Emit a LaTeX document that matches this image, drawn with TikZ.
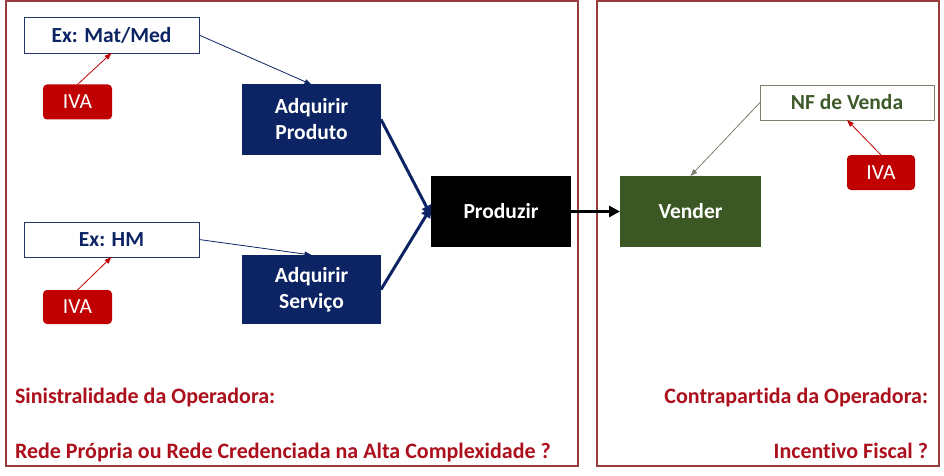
\documentclass[tikz,border=0pt]{standalone}
\usepackage{fontspec}
\setmainfont{Carlito}[Ligatures={NoCommon}]
\usetikzlibrary{arrows.meta}
\definecolor{navy}{RGB}{12,36,100}
\definecolor{ivared}{RGB}{192,0,0}
\definecolor{vgreen}{RGB}{58,87,36}
\definecolor{nfgreen}{RGB}{62,90,42}
\definecolor{panelred}{RGB}{150,62,62}
\definecolor{txtred}{RGB}{172,16,28}
\definecolor{nfline}{RGB}{120,130,110}
\begin{document}
\begin{tikzpicture}[x=1pt,y=-1pt,
  every node/.style={inner sep=0pt,outer sep=0pt,font=\fontsize{21.5}{26}\selectfont\bfseries},
  panel/.style={draw=panelred,line width=1.1pt},
  exbox/.style={draw=navy!80!gray,line width=0.8pt,fill=white,text=navy,minimum width=175pt,minimum height=36pt},
  nfbox/.style={draw=nfline,line width=0.8pt,fill=white,text=nfgreen,minimum width=174pt,minimum height=35pt},
  ivabox/.style={fill=ivared,text=white,rounded corners=4pt,minimum width=69pt,minimum height=35pt,font=\fontsize{21.5}{26}\selectfont\mdseries},
  bluebox/.style={fill=navy,text=white,align=center,minimum width=139pt,minimum height=70pt},
  blackbox/.style={fill=black,text=white,minimum width=140pt,minimum height=71pt},
  greenbox/.style={fill=vgreen,text=white,minimum width=141pt,minimum height=71pt},
  thinnavy/.style={draw=navy,line width=0.8pt,-{Triangle[length=7pt,width=5pt]}},
  thinred/.style={draw=ivared,line width=0.8pt,-{Triangle[length=7pt,width=5pt]}},
  thingreen/.style={draw=nfline,line width=0.8pt,-{Triangle[length=7pt,width=5pt]}},
  thicknavy/.style={draw=navy,line width=3pt,-{Triangle[length=10pt,width=10pt]}},
  thickblack/.style={draw=black,line width=3.5pt,-{Triangle[length=11pt,width=11pt]}},
  note/.style={text=txtred,font=\fontsize{22}{26}\selectfont\bfseries}
]
\useasboundingbox (0,0) rectangle (944,476);
\fill[white] (0,0) rectangle (944,476);
% panels
\draw[panel] (6,1) rectangle (578,466);
\draw[panel] (597,1) rectangle (939,466);
% nodes
\node[exbox] (exA) at (111.5,35) {Ex: Mat/Med};
\node[ivabox] (ivaA) at (77.5,102) {IVA};
\node[bluebox] (adqP) at (311.5,119.5) {Adquirir\\Produto};
\node[exbox,minimum height=35pt] (exB) at (111.5,239.5) {Ex: HM};
\node[ivabox,minimum height=34pt] (ivaB) at (77.5,307) {IVA};
\node[bluebox,minimum height=69pt] (adqS) at (311.5,289.5) {Adquirir\\Serviço};
\node[blackbox] (prod) at (501,211.5) {Produzir};
\node[greenbox] (vend) at (690.5,211.5) {Vender};
\node[nfbox] (nf) at (847,102.5) {NF de Venda};
\node[ivabox,minimum width=68pt] (ivaC) at (881,172.5) {IVA};
% connectors
\draw[thinred] (ivaA.north) -- (exA.south);
\draw[thinred] (ivaB.north) -- (exB.south);
\draw[thinred] (ivaC.north) -- (nf.south);
\draw[thinnavy] (exA.east) -- (adqP.north);
\draw[thinnavy] (exB.east) -- (adqS.north);
\draw[thicknavy] (adqP.east) -- ([yshift=-4pt]prod.west);
\draw[thicknavy] (adqS.east) -- ([yshift=4pt]prod.west);
\draw[thickblack] (prod.east) -- (vend.west);
\draw[thingreen] (nf.west) -- (vend.north);
% notes
\node[note,anchor=base west] (n1) at (15,403) {Sinistralidade da Operadora:};
\node[note,anchor=base west] (n2) at (15,458) {Rede Própria ou Rede Credenciada na Alta Complexidade ?};
\node[note,anchor=base east] (n3) at (928,403) {Contrapartida da Operadora:};
\node[note,anchor=base east] (n4) at (928,458) {Incentivo Fiscal ?};
\end{tikzpicture}
\end{document}
